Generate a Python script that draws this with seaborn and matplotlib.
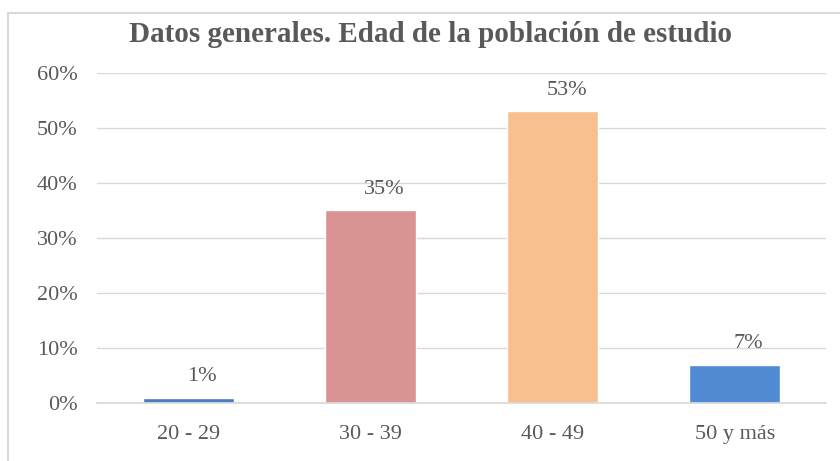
import pandas as pd
import matplotlib.pyplot as plt
import seaborn as sns
from matplotlib.patches import Rectangle
from matplotlib.ticker import PercentFormatter

# Datos del gráfico
edades = ['20 - 29', '30 - 39', '40 - 49', '50 y más']
porcentajes = [0.01, 0.35, 0.53, 0.07]
colores = ['#4a7cc0', '#d89392', '#f8bf8f', '#508bd4']

df = pd.DataFrame({'edad': edades, 'pct': porcentajes})

sns.set_theme(style='white')
plt.rcParams['font.family'] = ['Liberation Serif', 'DejaVu Serif']

fig = plt.figure(figsize=(8.4, 4.61), dpi=100)
ax = fig.add_axes([97 / 840, 58 / 461, 729 / 840, 330 / 461])

sns.barplot(data=df, x='edad', y='pct', hue='edad', palette=colores,
            width=0.5, legend=False, ax=ax, saturation=1)

ax.set_ylim(0, 0.6)
ax.set_yticks([0, 0.1, 0.2, 0.3, 0.4, 0.5, 0.6])
ax.yaxis.set_major_formatter(PercentFormatter(1.0, decimals=0))
ax.grid(axis='y', color='#d9d9d9', linewidth=1)
ax.set_axisbelow(True)
for s in ['top', 'right', 'left']:
    ax.spines[s].set_visible(False)
ax.spines['bottom'].set_color('#d9d9d9')
ax.set_xlabel('')
ax.set_ylabel('')
ax.tick_params(axis='both', length=0, labelsize=16, labelcolor='#595959')
ax.tick_params(axis='x', pad=16)
ax.tick_params(axis='y', pad=14)

# Etiquetas de datos
for i, v in enumerate(porcentajes):
    ax.annotate(f'{v:.0%}', (i, v), xytext=(10, 15), textcoords='offset points',
                ha='center', va='center', fontsize=16, color='#595959')

fig.suptitle('Datos generales. Edad de la población de estudio', x=0.512, y=0.955,
             fontsize=21, fontweight='bold', color='#595959')

# borde del gráfico
fig.patches.append(Rectangle((8 / 840, -0.1), 1.2, (461 - 13) / 461 + 0.1,
                             transform=fig.transFigure, fill=False,
                             edgecolor='#d9d9d9', linewidth=1.5))

fig.savefig('out.png', dpi=100)
